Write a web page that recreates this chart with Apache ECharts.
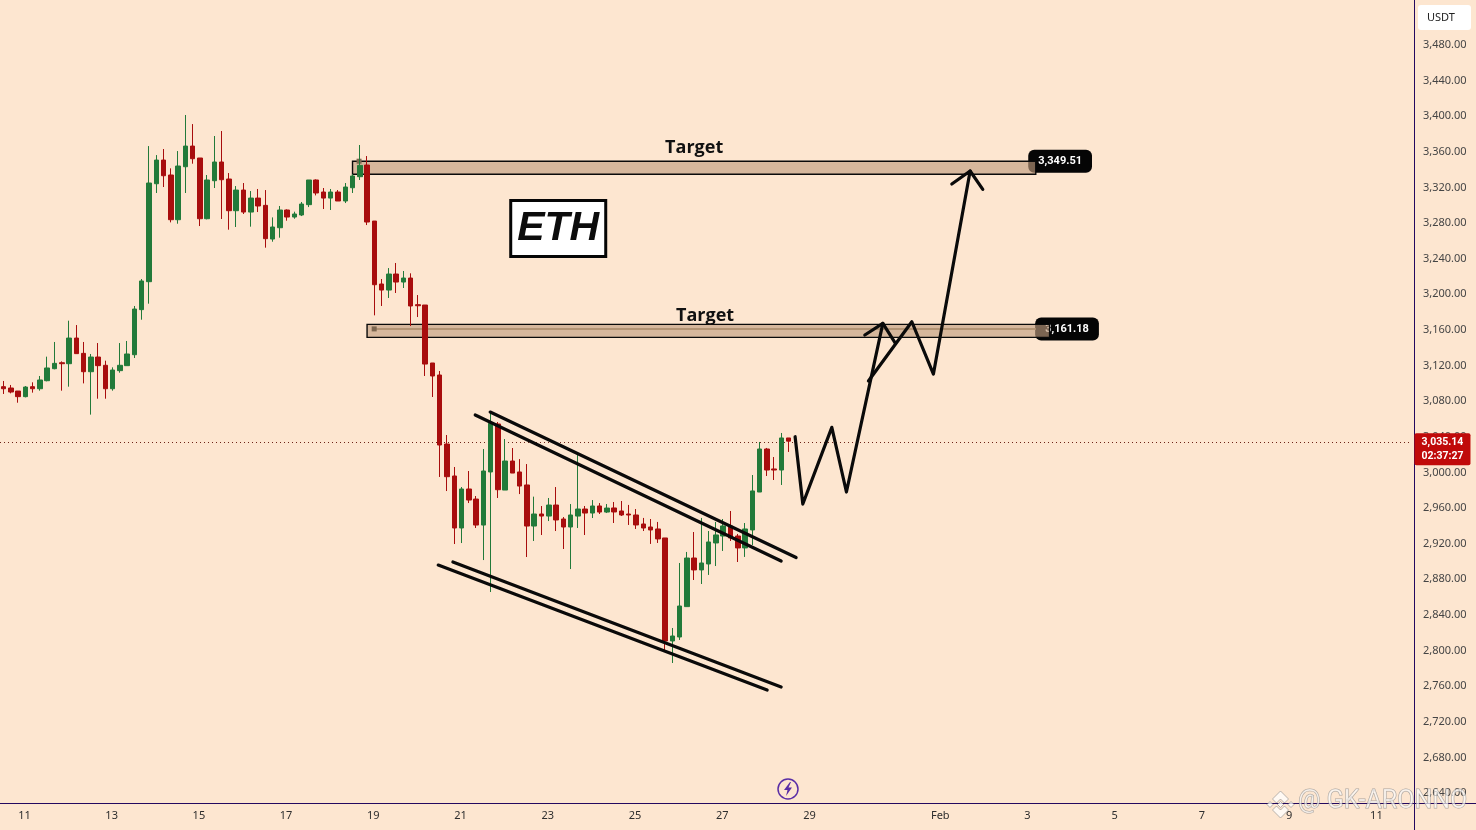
<!DOCTYPE html>
<html>
<head>
<meta charset="utf-8">
<title>ETH</title>
<style>
  html, body { margin: 0; padding: 0; background: #fde6d0; }
  #chart { width: 1476px; height: 830px; }
</style>
<script src="https://cdn.jsdelivr.net/npm/echarts@6/dist/echarts.min.js"></script>
</head>
<body>
<div id="chart"></div>
<script>
// 4h candles
var opens = [3096.3,3094.8,3091.4,3085.1,3096.3,3094.0,3103.0,3116.5,3123.2,3122.1,
  3150.9,3133.7,3113.1,3129.6,3120.3,3094.0,3114.3,3119.9,3132.2,3182.8,
  3214.2,3324.2,3350.8,3334.0,3283.8,3343.3,3366.5,3353.1,3284.9,3327.6,
  3348.6,3329.5,3293.9,3317.1,3292.4,3308.1,3299.9,3262.1,3274.8,3294.7,
  3286.8,3289.1,3300.7,3328.4,3314.9,3308.1,3314.9,3304.8,3319.7,3332.1,
  3345.2,3282.3,3211.6,3204.8,3222.8,3213.8,3218.3,3188.4,3188.0,3122.9,
  3109.4,3031.9,2996.0,2937.6,2981.4,2970.1,2940.9,3000.5,3054.4,2980.2,
  3012.8,3000.5,2985.9,2939.8,2953.3,2951.0,2963.4,2947.7,2938.7,2951.0,
  2958.9,2954.4,2962.3,2955.5,2960.1,2956.7,2953.3,2952.2,2942.1,2938.7,
  2936.5,2926.4,2810.7,2815.2,2849.3,2903.9,2890.5,2897.2,2920.8,2928.6,
  2939.9,2928.6,2915.2,2935.4,2978.0,3026.3,3003.9,3002.7,3038.7];
var closes = [3094.0,3090.3,3085.1,3095.9,3094.0,3103.8,3117.3,3122.5,3122.1,3150.9,
  3133.4,3113.1,3129.6,3119.9,3094.0,3115.0,3120.3,3133.0,3183.5,3215.0,
  3325.0,3350.8,3333.2,3283.8,3344.1,3366.5,3352.3,3284.9,3328.4,3348.6,
  3328.7,3293.9,3317.1,3292.4,3308.1,3299.2,3262.5,3275.6,3294.7,3286.8,
  3290.2,3301.4,3328.4,3313.8,3308.1,3314.9,3304.8,3320.5,3332.9,3344.8,
  3281.2,3210.8,3204.8,3222.8,3213.8,3218.3,3186.9,3187.2,3121.7,3108.3,
  3030.8,2995.2,2937.6,2981.4,2969.0,2940.9,3001.6,3055.1,2980.6,3012.8,
  2999.3,2984.7,2939.8,2953.3,2951.0,2963.4,2946.6,2938.7,2952.2,2958.9,
  2954.4,2962.3,2955.5,2960.0,2955.6,2952.2,2952.2,2941.0,2937.6,2935.4,
  2925.3,2810.7,2816.3,2850.0,2903.9,2890.5,2898.3,2921.9,2929.8,2939.9,
  2926.4,2915.2,2936.5,2979.2,3026.3,3002.7,3002.7,3038.7,3035.14];
var lows = [3088.1,3088.8,3078.3,3084.3,3089.6,3091.8,3102.3,3115.8,3091.8,3096.3,
  3133.4,3100.0,3064.9,3082.8,3082.8,3091.8,3112.0,3119.9,3128.5,3171.5,
  3189.5,3313.8,3320.5,3280.8,3279.3,3313.8,3346.7,3276.7,3284.2,3319.4,
  3284.6,3272.6,3275.6,3290.2,3276.0,3292.4,3252.4,3259.1,3263.6,3282.7,
  3284.9,3287.9,3298.0,3311.1,3295.8,3294.7,3304.8,3302.5,3313.8,3328.4,
  3277.8,3176.4,3186.9,3195.9,3201.5,3207.1,3164.4,3174.5,3108.3,3084.7,
  2994.9,2979.1,2919.6,2920.7,2965.6,2937.6,2901.6,2865.7,2971.3,2980.2,
  2999.3,2975.7,2905.0,2923.0,2929.7,2945.4,2934.2,2914.0,2891.5,2937.6,
  2929.7,2948.8,2953.3,2954.4,2943.2,2951.1,2941.0,2936.5,2934.2,2919.7,
  2920.8,2798.4,2786.0,2811.9,2849.3,2879.2,2874.7,2884.9,2894.9,2911.8,
  2923.0,2899.4,2905.1,2918.5,2978.0,2996.0,2991.5,2985.9,3023.0];
var highs = [3102.7,3098.2,3091.4,3097.0,3101.2,3108.3,3130.0,3146.5,3124.7,3170.4,
  3165.5,3146.5,3133.0,3145.3,3125.5,3118.0,3145.3,3147.6,3186.9,3217.2,
  3366.5,3356.4,3363.2,3341.5,3360.9,3401.4,3391.2,3353.1,3334.0,3377.8,
  3383.4,3336.2,3321.6,3325.0,3316.0,3318.3,3317.1,3286.4,3299.2,3295.4,
  3292.8,3303.7,3328.4,3329.1,3319.4,3318.3,3317.1,3325.0,3335.1,3367.7,
  3355.3,3282.3,3217.2,3229.5,3235.2,3226.2,3223.6,3199.2,3188.0,3122.9,
  3113.9,3042.0,3006.1,2983.6,3001.6,2973.5,3026.3,3067.8,3056.6,3037.5,
  3027.4,3015.0,3009.4,2972.8,2962.3,2971.3,2983.6,2949.9,2964.5,3019.5,
  2962.3,2969.0,2965.6,2964.5,2966.8,2967.9,2963.5,2958.9,2948.9,2947.7,
  2944.4,2926.4,2825.3,2898.3,2910.7,2933.1,2948.9,2934.2,2944.4,2947.7,
  2956.7,2930.9,2943.2,2997.1,3034.2,3027.5,3017.3,3044.3,3038.7];

// date ticks, slot count of the time axis
var slotCount = 194;
var tickSlots = [3,15,27,39,51,63,75,87,99,111,129,141,153,165,177,189];
var tickLabels = ['11','13','15','17','19','21','23','25','27','29','Feb','3','5','7','9','11'];

// drawings, [slot, price]
var channelUpperA = [[64.88,3064.5],[106.97,2900.5]];
var channelUpperB = [[66.94,3067.8],[109.03,2904.4]];
var channelLowerA = [[59.79,2896.0],[105.04,2755.6]];
var channelLowerB = [[61.81,2899.4],[106.97,2759.0]];
var pathFirst = [[108.89,3040.1],[109.95,2964.5],[113.94,3050.6],[115.95,2978.0],[120.96,3167.4]];
var headFirst = [[118.48,3154.3],[120.96,3167.4],[122.65,3145.6]];
var pathSecond = [[118.98,3102.6],[124.95,3169.2],[127.92,3110.5],[132.97,3338.5]];
var headSecond = [[130.45,3323.9],[132.97,3338.5],[134.71,3317.9]];

// target zones: from slot, to slot, top price, bottom price
var zoneUpper = [48, 142, 3349.4, 3334.8];
var zoneLower = [50, 143.9, 3166.3, 3151.7];
var zoneLowerLine = [[50.98,3161.18],[142,3161.18]];
var anchorDots = [[48.9,3349.51],[50.98,3161.18]];

var lastPriceLine = [[-0.5,3033.6],[194,3033.6]];
var targetLabels = [[95,3364.8,'Target'],[96.5,3176.2,'Target']];
var levelBadges = [[145.35,3349.51,'3,349.51'],[146.3,3161.18,'3,161.18']];
var ethLabel = [[76.3,3273.9,'ETH']];
var lastBadge = [[197.95,3035.14,'3,035.14\n02:37:27']];

var bg = '#fde6d0';
var up = '#227a3a';
var down = '#a80d0d';
var frame = '#24095f';
var zoneFill = 'rgba(192,157,126,0.64)';

var categories = [];
for (var i = 0; i < slotCount; i++) {
  var at = tickSlots.indexOf(i);
  categories.push(at >= 0 ? tickLabels[at] : '');
}

var candles = opens.map(function(o, k) {
  return [o, closes[k], lows[k], highs[k]];
});

function drawn(points, width) {
  return {
    type: 'line',
    xAxisIndex: 1,
    data: points,
    symbol: 'none',
    silent: true,
    z: 6,
    lineStyle: { color: '#0a0a0a', width: width, cap: 'round', join: 'round' }
  };
}

function zone(z) {
  return [{ coord: [z[0], z[2]] }, { coord: [z[1], z[3]] }];
}

// watermark logo pieces
function logoPiece(points) {
  return {
    type: 'polygon', z: 20, silent: true,
    shape: { points: points },
    style: { fill: 'rgba(255,255,255,0.75)', stroke: 'rgba(130,130,130,0.55)', lineWidth: 1 }
  };
}

var chart = echarts.init(document.getElementById('chart'), null, { renderer: 'canvas' });
chart.setOption({
  animation: false,
  backgroundColor: bg,
  grid: { left: -0.3, width: 1410.4, top: 45, height: 748 },
  xAxis: [
    {
      type: 'category',
      data: categories,
      axisLine: { show: false },
      axisTick: { show: false },
      splitLine: { show: false },
      axisLabel: {
        interval: 0,
        margin: 17,
        padding: [0, 2, 0, 0],
        color: '#2e2e2e',
        fontSize: 11,
        fontFamily: 'Noto Sans, sans-serif'
      }
    },
    { type: 'value', show: false, min: -0.5, max: slotCount - 0.5, splitLine: { show: false } }
  ],
  yAxis: {
    type: 'value',
    position: 'right',
    offset: 3.9,
    min: 2640,
    max: 3480,
    interval: 40,
    scale: true,
    splitLine: { show: false },
    axisLine: { show: false },
    axisTick: { show: false },
    axisLabel: {
      margin: 9,
      padding: [2, 0, 0, 0],
      color: '#454545',
      fontSize: 11,
      fontFamily: 'Noto Sans, sans-serif',
      showMinLabel: true,
      showMaxLabel: true,
      formatter: function(v) {
        return v.toLocaleString('en-US', { minimumFractionDigits: 2, maximumFractionDigits: 2 });
      }
    }
  },
  series: [
    {
      // black level badges sit under the zones, the zone end shows through
      type: 'scatter',
      xAxisIndex: 1,
      data: levelBadges,
      symbolSize: 0,
      z: 1,
      silent: true,
      itemStyle: { opacity: 1 },
      label: {
        show: true,
        position: 'inside',
        formatter: function(p) { return p.value[2]; },
        color: '#fff',
        fontSize: 11,
        fontWeight: 'bold',
        fontFamily: 'Roboto, sans-serif',
        backgroundColor: '#050505',
        borderRadius: 6,
        padding: [6, 10]
      }
    },
    {
      type: 'line',
      xAxisIndex: 1,
      data: zoneLowerLine,
      symbol: 'none',
      silent: true,
      z: 3,
      lineStyle: { color: '#b39474', width: 2 },
      markArea: {
        silent: true,
        z: 2,
        itemStyle: { color: zoneFill, borderColor: '#0a0a0a', borderWidth: 1.4 },
        data: [zone(zoneUpper), zone(zoneLower)]
      }
    },
    {
      type: 'scatter',
      xAxisIndex: 1,
      data: anchorDots,
      symbol: 'rect',
      symbolSize: 5,
      silent: true,
      z: 3,
      itemStyle: { color: '#7d6750', opacity: 1 }
    },
    {
      type: 'line',
      xAxisIndex: 1,
      data: lastPriceLine,
      symbol: 'none',
      silent: true,
      clip: false,
      z: 3,
      lineStyle: { color: '#6e2316', width: 1, type: [1, 3] }
    },
    {
      type: 'candlestick',
      data: candles,
      barWidth: 5,
      z: 4,
      itemStyle: {
        color: up,
        color0: down,
        borderColor: up,
        borderColor0: down,
        borderWidth: 1
      }
    },
    drawn(channelUpperA, 3.2),
    drawn(channelUpperB, 3.2),
    drawn(channelLowerA, 3.2),
    drawn(channelLowerB, 3.2),
    drawn(pathFirst, 3.2),
    drawn(headFirst, 3.2),
    drawn(pathSecond, 3.2),
    drawn(headSecond, 3.2),
    {
      type: 'scatter',
      xAxisIndex: 1,
      data: targetLabels,
      symbolSize: 0,
      silent: true,
      z: 7,
      itemStyle: { opacity: 1 },
      label: {
        show: true,
        position: 'inside',
        formatter: function(p) { return p.value[2]; },
        color: '#111',
        fontSize: 18,
        fontWeight: 'bold',
        fontFamily: 'Open Sans, sans-serif'
      }
    },
    {
      type: 'scatter',
      xAxisIndex: 1,
      data: ethLabel,
      symbolSize: 0,
      silent: true,
      z: 7,
      itemStyle: { opacity: 1 },
      label: {
        show: true,
        position: 'inside',
        formatter: function(p) { return p.value[2]; },
        color: '#0c0c0c',
        fontSize: 41,
        fontWeight: 'bold',
        fontStyle: 'italic',
        fontFamily: 'Liberation Sans, sans-serif',
        backgroundColor: '#fff',
        borderColor: '#050505',
        borderWidth: 3,
        width: 92,
        height: 53,
        lineHeight: 53,
        align: 'center',
        verticalAlign: 'middle'
      }
    },
    {
      type: 'scatter',
      xAxisIndex: 1,
      data: lastBadge,
      symbolSize: 0,
      silent: true,
      clip: false,
      z: 8,
      itemStyle: { opacity: 1 },
      label: {
        show: true,
        position: 'inside',
        offset: [0, 8],
        formatter: function(p) { return p.value[2]; },
        color: '#fff',
        fontSize: 10.5,
        lineHeight: 14,
        fontWeight: 'bold',
        fontFamily: 'Roboto, sans-serif',
        backgroundColor: '#c00a0a',
        borderRadius: 2,
        padding: [2, 7, 2, 7]
      }
    }
  ],
  graphic: [
    { type: 'line', z: 5, silent: true, shape: { x1: 0, y1: 803.5, x2: 1476, y2: 803.5 }, style: { stroke: frame, lineWidth: 1 } },
    { type: 'line', z: 5, silent: true, shape: { x1: 1414.5, y1: 0, x2: 1414.5, y2: 830 }, style: { stroke: frame, lineWidth: 1 } },
    { type: 'rect', z: 6, silent: true, shape: { x: 1418, y: 5, width: 53, height: 25, r: 3 }, style: { fill: '#fff' } },
    {
      type: 'text', z: 7, silent: true, x: 1427, y: 12,
      style: { text: 'USDT', fill: '#222', font: '11px "Noto Sans", sans-serif' }
    },
    { type: 'circle', z: 6, silent: true, shape: { cx: 788, cy: 789, r: 10 }, style: { fill: bg, stroke: '#5a2ea6', lineWidth: 1.5 } },
    {
      type: 'polygon', z: 7, silent: true,
      shape: { points: [[790,782],[784,790],[787.5,790],[786,796],[792,787.5],[788.5,787.5],[791,782]] },
      style: { fill: '#5a2ea6' }
    },
    logoPiece([[1280.5,791],[1288.5,799],[1284.5,803],[1280.5,799],[1276.5,803],[1272.5,799]]),
    logoPiece([[1280.5,818],[1288.5,810],[1284.5,806],[1280.5,810],[1276.5,806],[1272.5,810]]),
    logoPiece([[1280.5,801.5],[1283.5,804.5],[1280.5,807.5],[1277.5,804.5]]),
    logoPiece([[1267,804.5],[1270,801.5],[1273,804.5],[1270,807.5]]),
    logoPiece([[1294,804.5],[1291,801.5],[1288,804.5],[1291,807.5]]),
    {
      type: 'text', z: 20, silent: true, x: 1298, y: 789,
      style: {
        text: '@ GK-ARONNO',
        fill: 'rgba(255,255,255,0.65)',
        stroke: 'rgba(125,125,125,0.65)',
        lineWidth: 1,
        font: '25px Roboto, sans-serif'
      }
    }
  ]
});
</script>
</body>
</html>
